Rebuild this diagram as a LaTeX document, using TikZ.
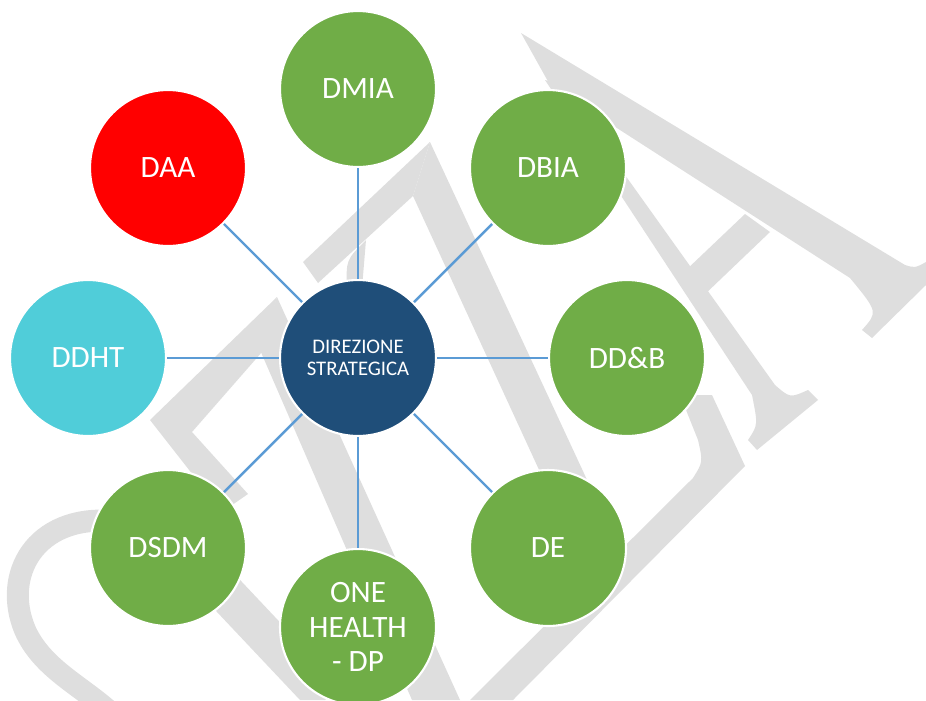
\documentclass[tikz,border=0pt]{standalone}
\usepackage{fontspec}
\setmainfont{Carlito}
\definecolor{wmgray}{RGB}{222,222,222}
\definecolor{dgreen}{RGB}{112,173,71}
\definecolor{dred}{RGB}{255,0,0}
\definecolor{dcyan}{RGB}{80,205,217}
\definecolor{dnavy}{RGB}{31,78,121}
\definecolor{dlink}{RGB}{91,155,213}
\begin{document}
\begin{tikzpicture}[x=0.02cm,y=-0.02cm,
  dept/.style={circle,draw=white,line width=1.2pt,minimum size=3.12cm,inner sep=0pt,
    text=white,align=center,font=\fontsize{17.7}{19.6}\selectfont},
  link/.style={draw=dlink,line width=1.4pt}]
\useasboundingbox (0,0) rectangle (926,700);
% watermark
\fill[wmgray] (521,33) -- (905,265) .. controls (915,268) .. (926,262) -- (926,285) -- (872,338) -- (862,330) .. controls (878,312) .. (850,278) -- (550,85) -- cycle;
\fill[wmgray] (745,214) -- (770,232) -- (702,297) -- (684,272) -- cycle;
\fill[wmgray] (545,80) -- (560,84) -- (775,385) .. controls (790,398) .. (808,390) -- (818,400) -- (757,450) -- (748,440) .. controls (758,425) .. (752,395) -- cycle;
\fill[wmgray] (680,395) -- (712,395) -- (745,466) -- (513,700) -- (470,700) -- (693,478) .. controls (703,462) .. (698,440) -- cycle;
\fill[wmgray] (430,142) -- (615,540) -- (575,548) -- (413,196) -- cycle;
\fill[wmgray] (430,142) -- (413,196) -- (318,283) -- (303,262) -- cycle;
\fill[wmgray] (366,240) .. controls (346,260) .. (347,288) -- (362,288) -- cycle;
\fill[wmgray] (277,297) -- (150,420) -- (222,512) -- (248,494) -- (192,432) -- (262,352) -- cycle;
\fill[wmgray] (277,297) -- (460,700) -- (412,700) -- (260,350) -- cycle;
\fill[wmgray] (225,562) -- (242,582) -- (340,686) -- (325,700) -- (300,700) -- (217,612) -- (200,590) -- cycle;
\draw[wmgray,line width=0.44cm] (112,521) .. controls (35,515) and (2,575) .. (25,630) .. controls (42,668) and (80,685) .. (110,712);
% departments
\node[dept,fill=dnavy,font=\fontsize{11.8}{12.9}\selectfont] (dir) at (358,358) {DIREZIONE\\STRATEGICA};
\node[dept,fill=dgreen] (dmia) at (358,89) {DMIA};
\node[dept,fill=dgreen] (dbia) at (548,168) {DBIA};
\node[dept,fill=dgreen] (ddb) at (627,358) {DD\&B};
\node[dept,fill=dgreen] (de) at (548,548) {DE};
\node[dept,fill=dgreen] (oneh) at (358,627) {ONE\\HEALTH\\- DP};
\node[dept,fill=dgreen] (dsdm) at (168,548) {DSDM};
\node[dept,fill=dcyan] (ddht) at (88,358) {DDHT};
\node[dept,fill=dred] (daa) at (168,168) {DAA};
\draw[link] (dir)--(dmia);
\draw[link] (dir)--(dbia);
\draw[link] (dir)--(ddb);
\draw[link] (dir)--(de);
\draw[link] (dir)--(oneh);
\draw[link] (dir)--(dsdm);
\draw[link] (dir)--(ddht);
\draw[link] (dir)--(daa);
\end{tikzpicture}
\end{document}
